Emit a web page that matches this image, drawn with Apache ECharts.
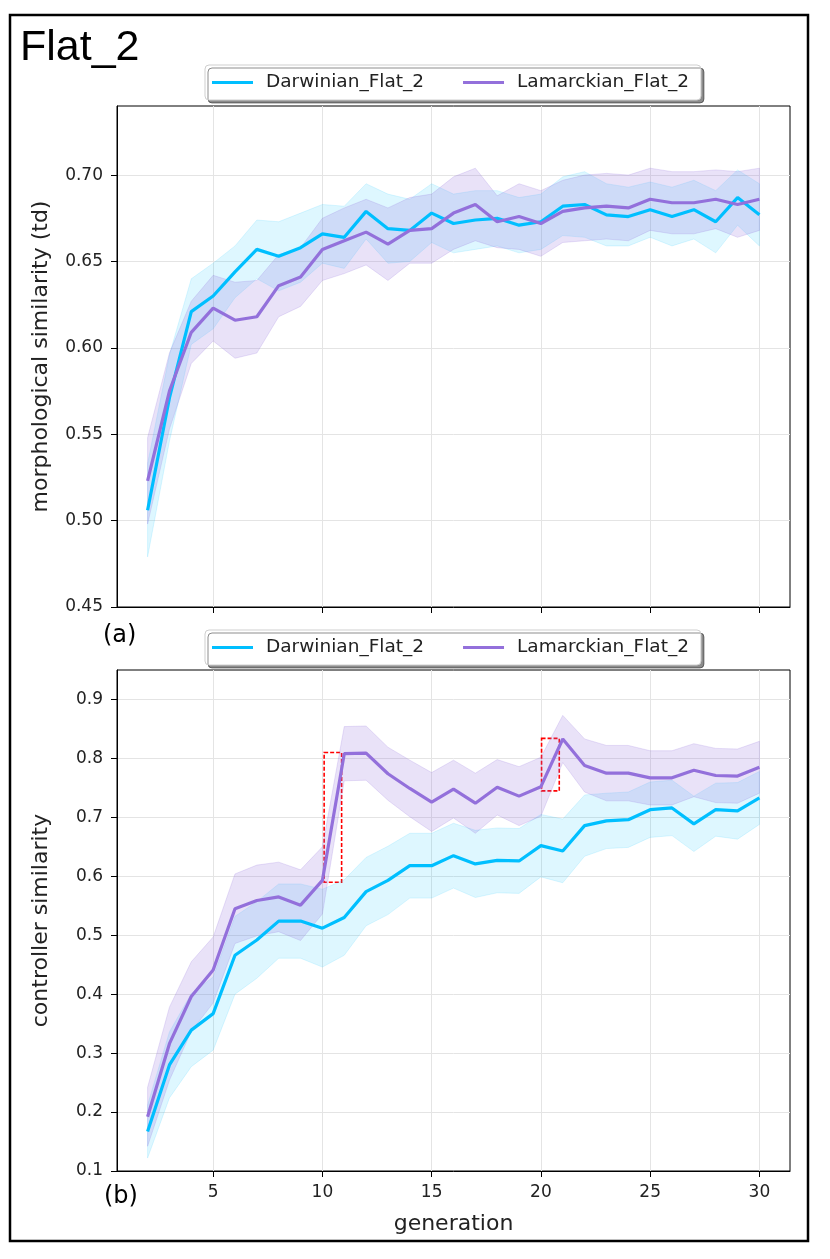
<!DOCTYPE html>
<html><head><meta charset="utf-8">
<script src="https://cdn.jsdelivr.net/npm/echarts@6/dist/echarts.min.js"></script>
<style>html,body{margin:0;padding:0;background:#fff}#chart{width:830px;height:1259px}</style>
</head><body><div id="chart"></div>
<script>
const generations = [2,3,4,5,6,7,8,9,10,11,12,13,14,15,16,17,18,19,20,21,22,23,24,25,26,27,28,29,30];
const xTicks = [5,10,15,20,25,30];
const morphTicks = [0.45,0.50,0.55,0.60,0.65,0.70];
const ctrlTicks = [0.1,0.2,0.3,0.4,0.5,0.6,0.7,0.8,0.9];
const seriesNames = ['Darwinian_Flat_2','Lamarckian_Flat_2'];

const darwinMorphMean = [0.506,0.571,0.621,0.630,0.644,0.657,0.653,0.658,0.666,0.664,0.679,0.669,0.668,0.678,0.672,0.674,0.675,0.671,0.673,0.682,0.683,0.677,0.676,0.680,0.676,0.680,0.673,0.687,0.677];
const darwinMorphSd = [0.027,0.025,0.019,0.019,0.015,0.017,0.020,0.020,0.017,0.018,0.016,0.020,0.018,0.017,0.017,0.017,0.016,0.016,0.016,0.017,0.019,0.018,0.017,0.016,0.017,0.017,0.018,0.016,0.018];
const lamarckMorphMean = [0.523,0.575,0.609,0.623,0.616,0.618,0.636,0.641,0.657,0.662,0.667,0.660,0.668,0.669,0.678,0.683,0.673,0.676,0.672,0.679,0.681,0.682,0.681,0.686,0.684,0.684,0.686,0.683,0.686];
const lamarckMorphSd = [0.025,0.022,0.018,0.019,0.022,0.021,0.018,0.017,0.018,0.019,0.019,0.021,0.019,0.020,0.021,0.021,0.015,0.019,0.019,0.018,0.019,0.019,0.019,0.018,0.018,0.018,0.017,0.019,0.018];

const darwinCtrlMean = [0.167,0.280,0.339,0.367,0.466,0.492,0.524,0.524,0.512,0.530,0.574,0.593,0.618,0.618,0.635,0.621,0.627,0.626,0.652,0.643,0.686,0.694,0.696,0.713,0.716,0.689,0.713,0.711,0.733];
const darwinCtrlSd = [0.045,0.056,0.062,0.062,0.066,0.065,0.063,0.063,0.066,0.064,0.058,0.058,0.055,0.055,0.055,0.057,0.055,0.055,0.053,0.054,0.052,0.047,0.047,0.047,0.047,0.047,0.045,0.048,0.045];
const lamarckCtrlMean = [0.192,0.316,0.396,0.441,0.545,0.559,0.565,0.551,0.593,0.808,0.809,0.774,0.749,0.726,0.748,0.724,0.751,0.736,0.752,0.833,0.788,0.775,0.775,0.767,0.767,0.780,0.771,0.770,0.785];
const lamarckCtrlSd = [0.050,0.062,0.059,0.056,0.059,0.060,0.059,0.060,0.057,0.046,0.046,0.045,0.048,0.050,0.049,0.051,0.047,0.050,0.050,0.040,0.045,0.047,0.047,0.046,0.046,0.045,0.046,0.046,0.044];

// [xFrom, xTo, yFrom, yTo]
const highlightBoxes = [[10.08,10.88,0.59,0.81],[20.03,20.84,0.745,0.834]];

const CYAN = '#00BFFF', PURPLE = '#9370DB';
const CYAN_BAND = 'rgba(0,191,255,0.13)', PURPLE_BAND = 'rgba(147,112,219,0.2)';
const FONT = 'DejaVu Sans';

function bandSeries(mean, sd, color, idx) {
  return {
    type: 'custom', xAxisIndex: idx, yAxisIndex: idx, silent: true, z: 1,
    data: generations.map((g, i) => [g, mean[i] - sd[i], mean[i] + sd[i]]),
    encode: { x: 0, y: [1, 2] },
    renderItem: function (params, api) {
      if (params.dataIndex !== 0) return null;
      const pts = [];
      for (let i = 0; i < generations.length; i++) pts.push(api.coord([generations[i], mean[i] + sd[i]]));
      for (let i = generations.length - 1; i >= 0; i--) pts.push(api.coord([generations[i], mean[i] - sd[i]]));
      return { type: 'polygon', shape: { points: pts }, style: { fill: color, stroke: color, lineWidth: 1 } };
    }
  };
}
function lineSeries(name, mean, color, idx, extra) {
  return Object.assign({
    type: 'line', name: name, xAxisIndex: idx, yAxisIndex: idx,
    data: generations.map((g, i) => [g, mean[i]]),
    showSymbol: false, symbol: 'none', silent: true, z: 3,
    lineStyle: { width: 3.2, color: color }, itemStyle: { color: color }
  }, extra || {});
}
function xAxis(idx, showLabels) {
  return {
    type: 'value', gridIndex: idx, min: 0.6, max: 31.4,
    axisLine: { show: true, lineStyle: { color: '#000', width: 1 } },
    axisTick: { show: true, inside: false, length: 6, customValues: xTicks, lineStyle: { color: '#000' } },
    axisLabel: { show: showLabels, customValues: xTicks, fontFamily: FONT, fontSize: 17, color: '#222', margin: 13 },
    splitLine: { show: true, lineStyle: { color: '#e4e4e4', width: 1 } },
    name: showLabels ? 'generation' : '', nameLocation: 'middle', nameGap: 42,
    nameTextStyle: { fontFamily: FONT, fontSize: 22, color: '#222' }
  };
}
function yAxis(idx, min, max, ticks, digits, name) {
  return {
    type: 'value', gridIndex: idx, min: min, max: max,
    axisLine: { show: true, lineStyle: { color: '#000', width: 1 } },
    axisTick: { show: true, inside: false, length: 6, customValues: ticks, lineStyle: { color: '#000' } },
    axisLabel: { show: true, customValues: ticks, fontFamily: FONT, fontSize: 17, color: '#222', margin: 14,
      formatter: v => v.toFixed(digits) },
    splitLine: { show: true, lineStyle: { color: '#e4e4e4', width: 1 } },
    name: name, nameLocation: 'middle', nameGap: 65, nameRotate: 90,
    nameTextStyle: { fontFamily: FONT, fontSize: 22, color: '#222' }
  };
}
function legend(top) {
  return {
    data: seriesNames, left: 205, top: top, orient: 'horizontal',
    icon: 'rect', itemWidth: 41, itemHeight: 3, itemGap: 39,
    padding: [8, 12, 8, 7],
    backgroundColor: '#fff', borderColor: '#cfcfcf', borderWidth: 1, borderRadius: 4,
    shadowColor: 'rgba(0,0,0,0.45)', shadowBlur: 0, shadowOffsetX: 3, shadowOffsetY: 3,
    textStyle: { fontFamily: FONT, fontSize: 18.5, color: '#222', padding: [0, 0, 0, 8], lineHeight: 18 },
    selectedMode: false
  };
}

const chart = echarts.init(document.getElementById('chart'), null, { renderer: 'canvas' });
chart.setOption({
  animation: false,
  backgroundColor: '#fff',
  textStyle: { fontFamily: FONT },
  grid: [
    { left: 117, top: 106, width: 673, height: 501, show: true, borderColor: '#000', borderWidth: 1, backgroundColor: 'transparent' },
    { left: 117, top: 670, width: 673, height: 501, show: true, borderColor: '#000', borderWidth: 1, backgroundColor: 'transparent' }
  ],
  legend: [legend(65), legend(630)],
  xAxis: [xAxis(0, false), xAxis(1, true)],
  yAxis: [
    yAxis(0, 0.45, 0.740, morphTicks, 2, 'morphological similarity (td)'),
    yAxis(1, 0.1, 0.95, ctrlTicks, 1, 'controller similarity')
  ],
  series: [
    bandSeries(darwinMorphMean, darwinMorphSd, CYAN_BAND, 0),
    bandSeries(lamarckMorphMean, lamarckMorphSd, PURPLE_BAND, 0),
    lineSeries(seriesNames[0], darwinMorphMean, CYAN, 0),
    lineSeries(seriesNames[1], lamarckMorphMean, PURPLE, 0),
    bandSeries(darwinCtrlMean, darwinCtrlSd, CYAN_BAND, 1),
    bandSeries(lamarckCtrlMean, lamarckCtrlSd, PURPLE_BAND, 1),
    lineSeries(seriesNames[0], darwinCtrlMean, CYAN, 1),
    lineSeries(seriesNames[1], lamarckCtrlMean, PURPLE, 1, {
      markArea: {
        silent: true,
        label: { show: false },
        itemStyle: { color: 'rgba(0,0,0,0)', borderColor: '#ff0000', borderWidth: 1.6, borderType: [4, 2] },
        data: highlightBoxes.map(b => [{ coord: [b[0], b[3]] }, { coord: [b[1], b[2]] }])
      }
    })
  ],
  graphic: [
    { type: 'rect', silent: true, z: 0, shape: { x: 10, y: 15, width: 798, height: 1226 }, style: { fill: 'none', stroke: '#000', lineWidth: 2.5 } },
    { type: 'text', silent: true, x: 20, y: 48, style: { text: 'Flat_2', fontFamily: 'Liberation Sans', fontSize: 43, fill: '#000', verticalAlign: 'middle' } },
    { type: 'text', silent: true, x: 103, y: 636, style: { text: '(a)', fontFamily: FONT, fontSize: 24, fill: '#000', verticalAlign: 'middle' } },
    { type: 'text', silent: true, x: 104, y: 1197, style: { text: '(b)', fontFamily: FONT, fontSize: 24, fill: '#000', verticalAlign: 'middle' } },
    { type: 'text', silent: true, x: 461, y: 89, style: { text: '_', fontFamily: FONT, fontSize: 20, fill: '#333', verticalAlign: 'middle' } },
    { type: 'text', silent: true, x: 461, y: 652, style: { text: '_', fontFamily: FONT, fontSize: 20, fill: '#333', verticalAlign: 'middle' } }
  ]
});
</script>
</body></html>
